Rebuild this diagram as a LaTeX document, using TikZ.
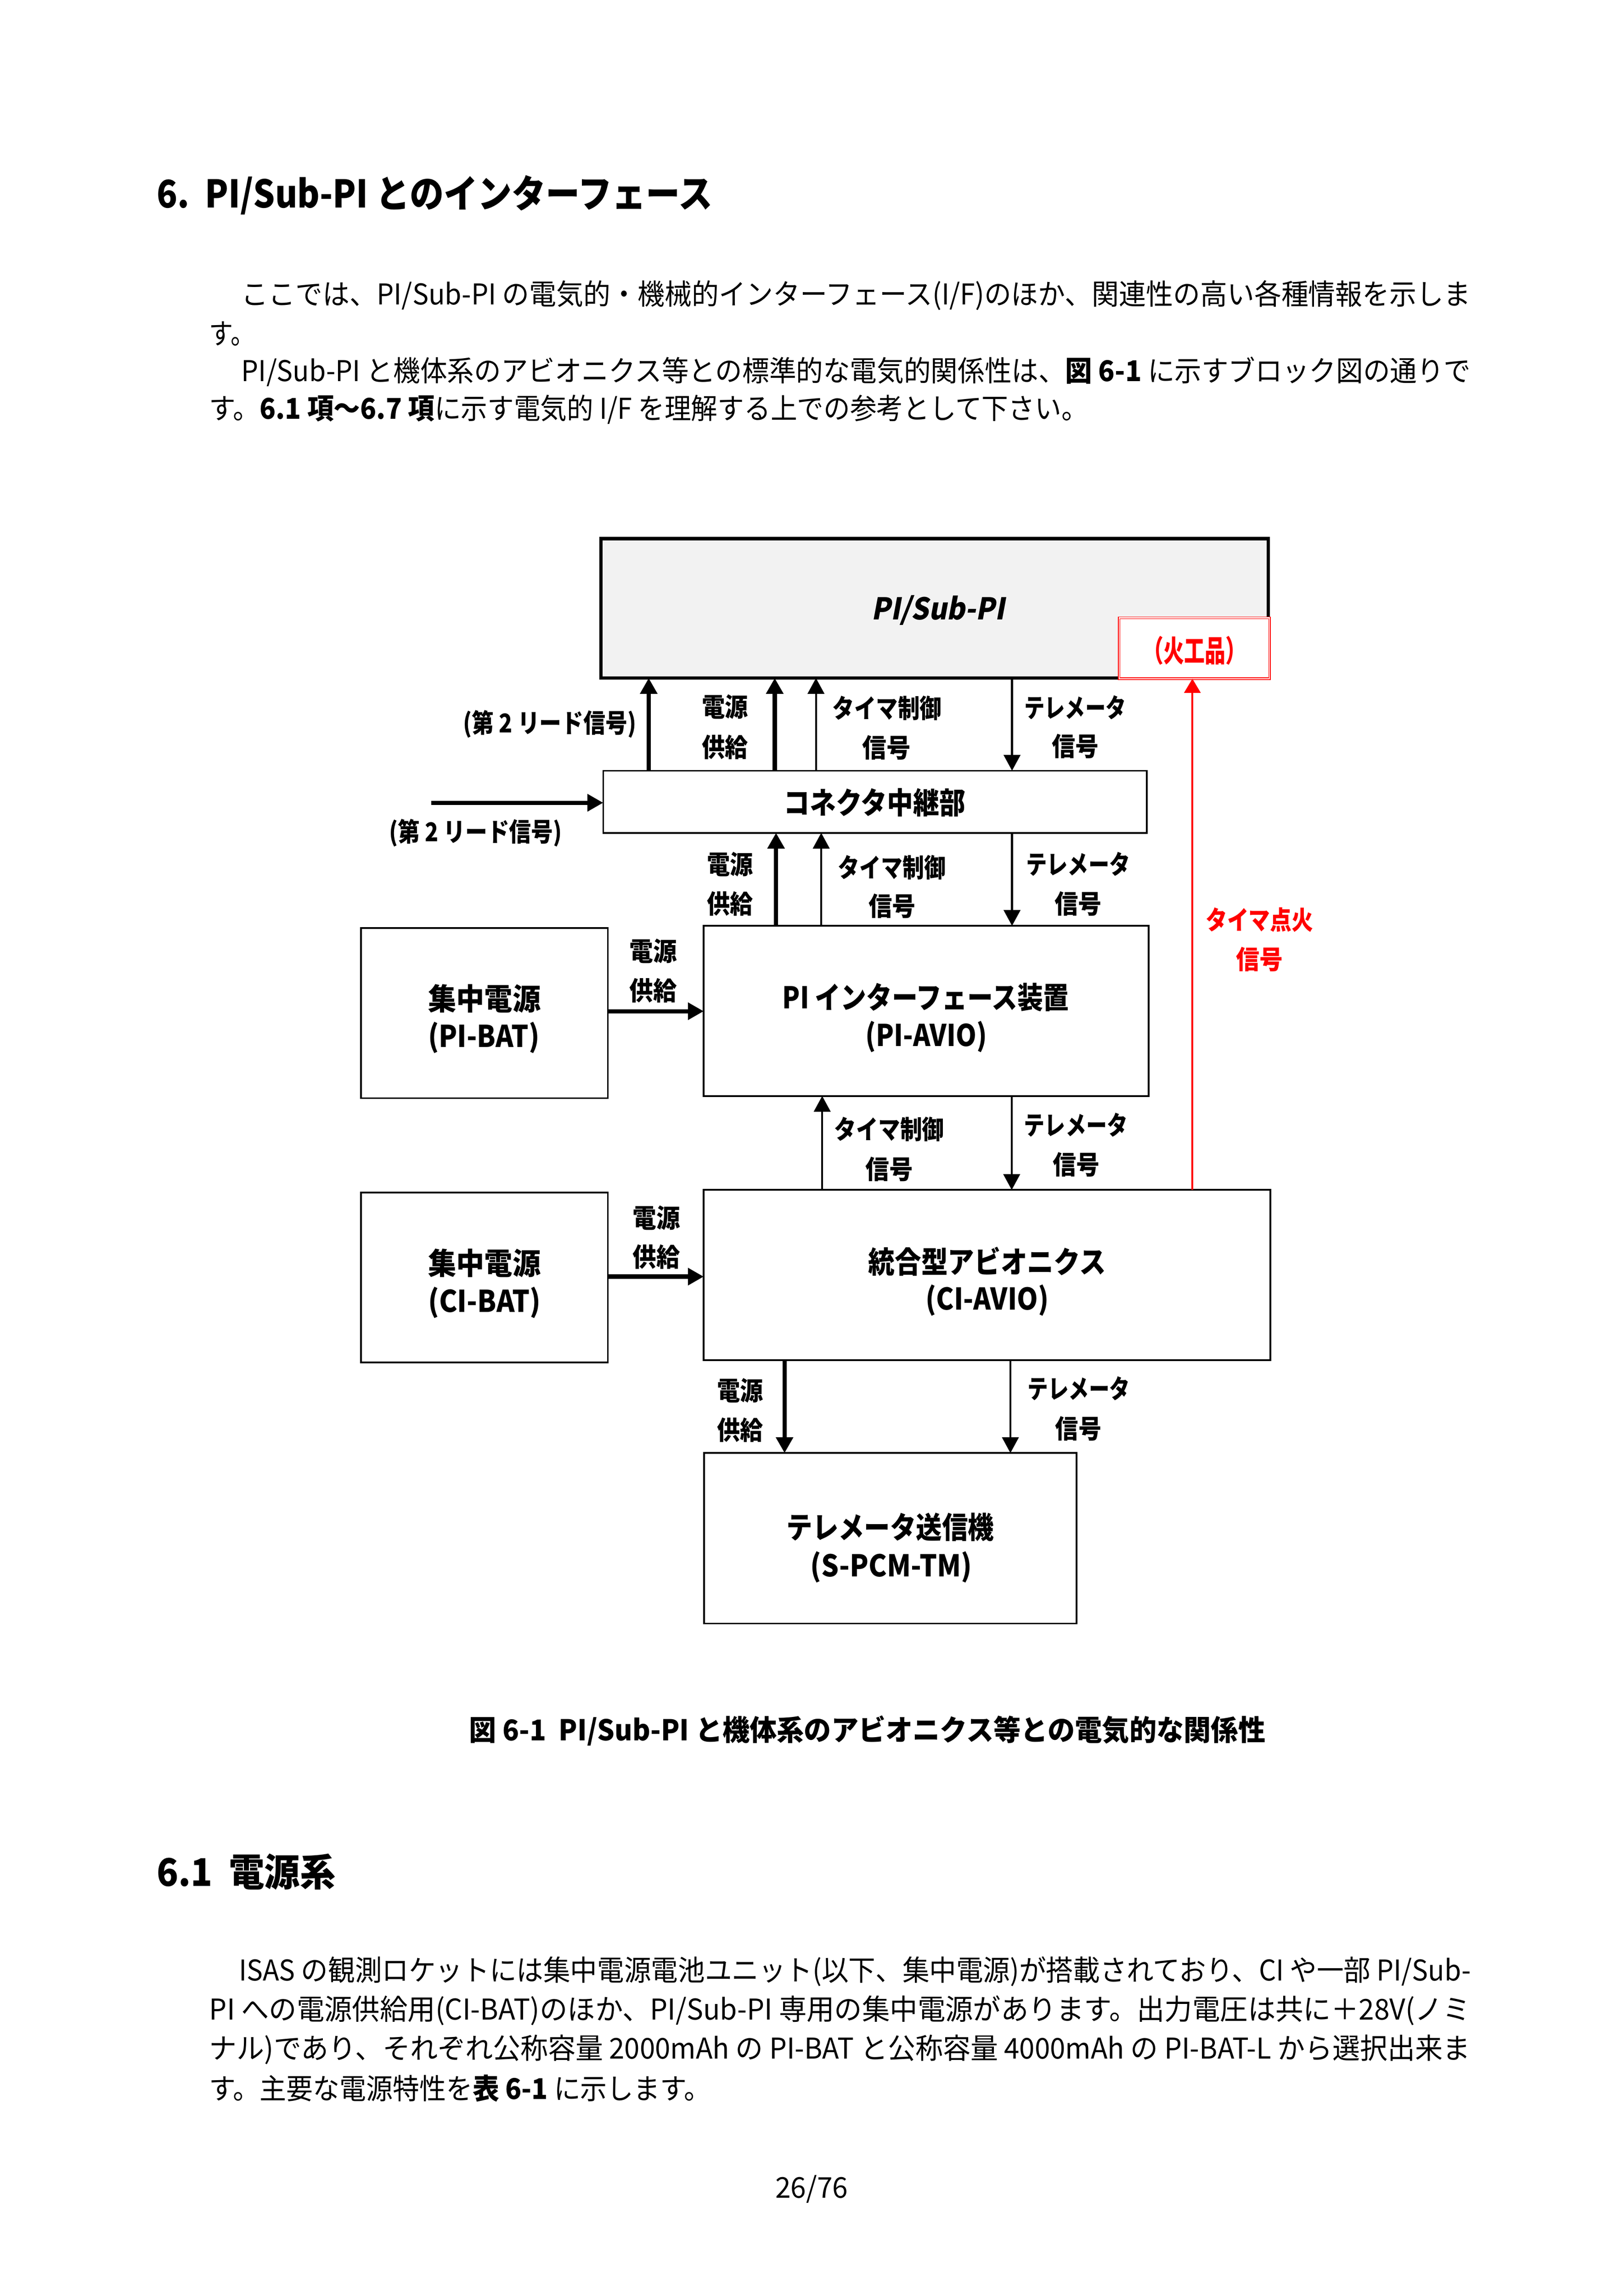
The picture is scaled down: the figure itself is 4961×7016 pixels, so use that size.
\documentclass[tikz,border=0pt]{standalone}
\usepackage{graphicx}
\usepackage{fontspec}
\setmainfont{Noto Sans CJK JP}
\setsansfont{Noto Sans CJK JP}
\newfontfamily\jpit[FakeSlant=0.2]{Noto Sans CJK JP}
\usetikzlibrary{arrows.meta}
\newdimen\pxu \pxu=0.12pt
\newcommand\fitw[2]{\resizebox{#1\pxu}{\height}{#2}}
\definecolor{pigray}{HTML}{F2F2F2}
\newcommand\mkbox[6]{\node[#1, minimum width={(#5-#3)*0.12pt}, minimum height={(#6-#4)*0.12pt}] (#2) at ({(#3+#5)/2},{(#4+#6)/2}) {};}
\tikzset{
  box/.style={draw, line width=0.6pt, fill=white, inner sep=0pt, outer sep=0pt},
  pibox/.style={draw, line width=1.2pt, fill=pigray, inner sep=0pt, outer sep=0pt},
  redbox/.style={draw=red, double=white, double distance=0.35pt, line width=0.3pt, fill=white, inner sep=0pt, outer sep=0pt},
  thickarr/.style={line width=1.56pt, -{Triangle[width=6.1pt,length=5.8pt]}},
  thinarr/.style={line width=0.7pt, -{Triangle[width=6.1pt,length=5.8pt]}},
  redarr/.style={draw=red, line width=0.7pt, -{Triangle[width=6pt,length=5.2pt]}},
  lab/.style={inner sep=0pt, font=\fontsize{9.5pt}{11pt}\selectfont\bfseries},
  mlab/.style={inner sep=0pt, font=\fontsize{11pt}{13pt}\selectfont\bfseries},
  bodytxt/.style={inner sep=0pt, anchor=west, font=\fontsize{10.5pt}{12pt}\selectfont},
  headtxt/.style={inner sep=0pt, anchor=west, font=\fontsize{14pt}{16pt}\selectfont\bfseries},
}
\begin{document}
\begin{tikzpicture}[x=0.12pt, y=-0.12pt]
\useasboundingbox (0,0) rectangle (4961,7016);
\fill[white] (0,0) rectangle (4961,7016);

% ---- text above ----
\node[headtxt] (title) at (477,596) {\fitw{1698}{6.\ \ PI/Sub-PI とのインターフェース}};
\node[bodytxt] (l1) at (736,902) {\fitw{3756}{ここでは、PI/Sub-PI の電気的・機械的インターフェース(I/F)のほか、関連性の高い各種情報を示しま}};
\node[bodytxt] (l2) at (638,1020) {\fitw{139}{す。}};
\node[bodytxt] (l3) at (736,1136) {\fitw{3756}{PI/Sub-PI と機体系のアビオニクス等との標準的な電気的関係性は、{\bfseries 図 6-1} に示すブロック図の通りで}};
\node[bodytxt] (l4) at (638,1252) {\fitw{2684}{す。{\bfseries 6.1 項～6.7 項}に示す電気的 I/F を理解する上での参考として下さい。}};

% ---- boxes ----
\mkbox{pibox}{pi}{1836}{1646}{3875}{2072}
\mkbox{redbox}{kako}{3419}{1888}{3879}{2074}
\mkbox{box}{conn}{1843}{2355}{3504}{2545}
\mkbox{box}{pibat}{1103}{2836}{1857}{3356}
\mkbox{box}{piavio}{2150}{2829}{3509}{3349}
\mkbox{box}{cibat}{1103}{3644}{1857}{4163}
\mkbox{box}{ciavio}{2150}{3636}{3881}{4156}
\mkbox{box}{spcm}{2151}{4440}{3289}{4961}

% ---- x / y positions of connectors ----
\coordinate (xA) at (1982,0);
\coordinate (xB) at (2367,0);
\coordinate (xC) at (2493,0);
\coordinate (xD) at (3092,0);
\coordinate (xE) at (2371,0);
\coordinate (xF) at (2509,0);
\coordinate (xG) at (3092,0);
\coordinate (xH) at (2512,0);
\coordinate (xI) at (3091,0);
\coordinate (xR) at (3643,0);
\coordinate (xJ) at (2397,0);
\coordinate (xK) at (3087,0);
\coordinate (yM) at (0,3090);
\coordinate (yN) at (0,3901);
\coordinate (lstart) at (1318,2453);

% ---- connectors ----
\draw[thickarr] (conn.north -| xA) -- (pi.south -| xA);
\draw[thickarr] (conn.north -| xB) -- (pi.south -| xB);
\draw[thinarr] (conn.north -| xC) -- (pi.south -| xC);
\draw[thinarr] (pi.south -| xD) -- (conn.north -| xD);
\draw[thickarr] (lstart) -- (lstart -| conn.west);
\draw[thickarr] (piavio.north -| xE) -- (conn.south -| xE);
\draw[thinarr] (piavio.north -| xF) -- (conn.south -| xF);
\draw[thinarr] (conn.south -| xG) -- (piavio.north -| xG);
\draw[thickarr] (pibat.east |- yM) -- (piavio.west |- yM);
\draw[thinarr] (ciavio.north -| xH) -- (piavio.south -| xH);
\draw[thinarr] (piavio.south -| xI) -- (ciavio.north -| xI);
\draw[thickarr] (cibat.east |- yN) -- (ciavio.west |- yN);
\draw[redarr] (ciavio.north -| xR) -- (kako.south -| xR);
\draw[thickarr] (ciavio.south -| xJ) -- (spcm.north -| xJ);
\draw[thinarr] (ciavio.south -| xK) -- (spcm.north -| xK);

% ---- box texts ----
\node[mlab] (tpi) at (2866,1865) {\fitw{407}{\jpit\bfseries PI/Sub-PI}};
\node[mlab, text=red] (tkako) at (3650,1988) {\fitw{316}{（火工品）}};
\node[mlab] (tconn) at (2672,2452) {\fitw{555}{コネクタ中継部}};
\node[mlab] (tpibat1) at (1480,3051) {\fitw{344}{集中電源}};
\node[mlab] (tpibat2) at (1478,3171) {\fitw{340}{(PI-BAT)}};
\node[mlab] (tpiavio1) at (2828,3048) {\fitw{875}{PI インターフェース装置}};
\node[mlab] (tpiavio2) at (2830,3168) {\fitw{371}{(PI-AVIO)}};
\node[mlab] (tcibat1) at (1480,3860) {\fitw{344}{集中電源}};
\node[mlab] (tcibat2) at (1480,3981) {\fitw{344}{(CI-BAT)}};
\node[mlab] (tciavio1) at (3016,3855) {\fitw{726}{統合型アビオニクス}};
\node[mlab] (tciavio2) at (3016,3974) {\fitw{376}{(CI-AVIO)}};
\node[mlab] (tspcm1) at (2720,4666) {\fitw{634}{テレメータ送信機}};
\node[mlab] (tspcm2) at (2723,4788) {\fitw{494}{(S-PCM-TM)}};

% ---- connector labels ----
\node[lab] (lead1) at (1680,2213) {\fitw{529}{(第 2 リード信号)}};
\node[lab] (lead2) at (1453,2545) {\fitw{528}{(第 2 リード信号)}};
\node[lab] (ua1) at (2215,2160) {\fitw{141}{電源}};
\node[lab] (ua2) at (2215,2283) {\fitw{141}{供給}};
\node[lab] (ub1) at (2710,2164) {\fitw{333}{タイマ制御}};
\node[lab] (ub2) at (2709,2284) {\fitw{148}{信号}};
\node[lab] (uc1) at (3285,2162) {\fitw{311}{テレメータ}};
\node[lab] (uc2) at (3285,2281) {\fitw{143}{信号}};
\node[lab] (ma1) at (2230,2641) {\fitw{141}{電源}};
\node[lab] (ma2) at (2230,2761) {\fitw{141}{供給}};
\node[lab] (mb1) at (2725,2651) {\fitw{329}{タイマ制御}};
\node[lab] (mb2) at (2726,2769) {\fitw{144}{信号}};
\node[lab] (mc1) at (3294,2641) {\fitw{318}{テレメータ}};
\node[lab] (mc2) at (3294,2761) {\fitw{144}{信号}};
\node[lab] (pa1) at (1996,2906) {\fitw{145}{電源}};
\node[lab] (pa2) at (1996,3027) {\fitw{145}{供給}};
\node[lab] (na1) at (2717,3451) {\fitw{335}{タイマ制御}};
\node[lab] (na2) at (2717,3573) {\fitw{145}{信号}};
\node[lab] (nb1) at (3287,3437) {\fitw{316}{テレメータ}};
\node[lab] (nb2) at (3288,3558) {\fitw{143}{信号}};
\node[lab] (ca1) at (2006,3721) {\fitw{145}{電源}};
\node[lab] (ca2) at (2006,3841) {\fitw{145}{供給}};
\node[lab, text=red] (ra1) at (3848,2810) {\fitw{329}{タイマ点火}};
\node[lab, text=red] (ra2) at (3848,2932) {\fitw{143}{信号}};
\node[lab] (ba1) at (2261,4249) {\fitw{141}{電源}};
\node[lab] (ba2) at (2261,4369) {\fitw{141}{供給}};
\node[lab] (bb1) at (3296,4243) {\fitw{313}{テレメータ}};
\node[lab] (bb2) at (3295,4365) {\fitw{141}{信号}};

% ---- caption ----
\node[inner sep=0pt, font=\fontsize{10.5pt}{12pt}\selectfont\bfseries] (cap) at (2650,5289) {\fitw{2432}{図 6-1\ \ PI/Sub-PI と機体系のアビオニクス等との電気的な関係性}};

% ---- text below ----
\node[headtxt] (sec) at (477,5720) {\fitw{547}{6.1\ \ 電源系}};
\node[bodytxt] (p1) at (728,6024) {\fitw{3764}{ISAS の観測ロケットには集中電源電池ユニット(以下、集中電源)が搭載されており、CI や一部 PI/Sub-}};
\node[bodytxt] (p2) at (638,6143) {\fitw{3853}{PI への電源供給用(CI-BAT)のほか、PI/Sub-PI 専用の集中電源があります。出力電圧は共に＋28V(ノミ}};
\node[bodytxt] (p3) at (638,6263) {\fitw{3853}{ナル)であり、それぞれ公称容量 2000mAh の PI-BAT と公称容量 4000mAh の PI-BAT-L から選択出来ま}};
\node[bodytxt] (p4) at (638,6382) {\fitw{1532}{す。主要な電源特性を{\bfseries 表 6-1} に示します。}};
\node[inner sep=0pt, font=\fontsize{10.5pt}{12pt}\selectfont] (pg) at (2480,6690) {\fitw{222}{26/76}};
\end{tikzpicture}
\end{document}
